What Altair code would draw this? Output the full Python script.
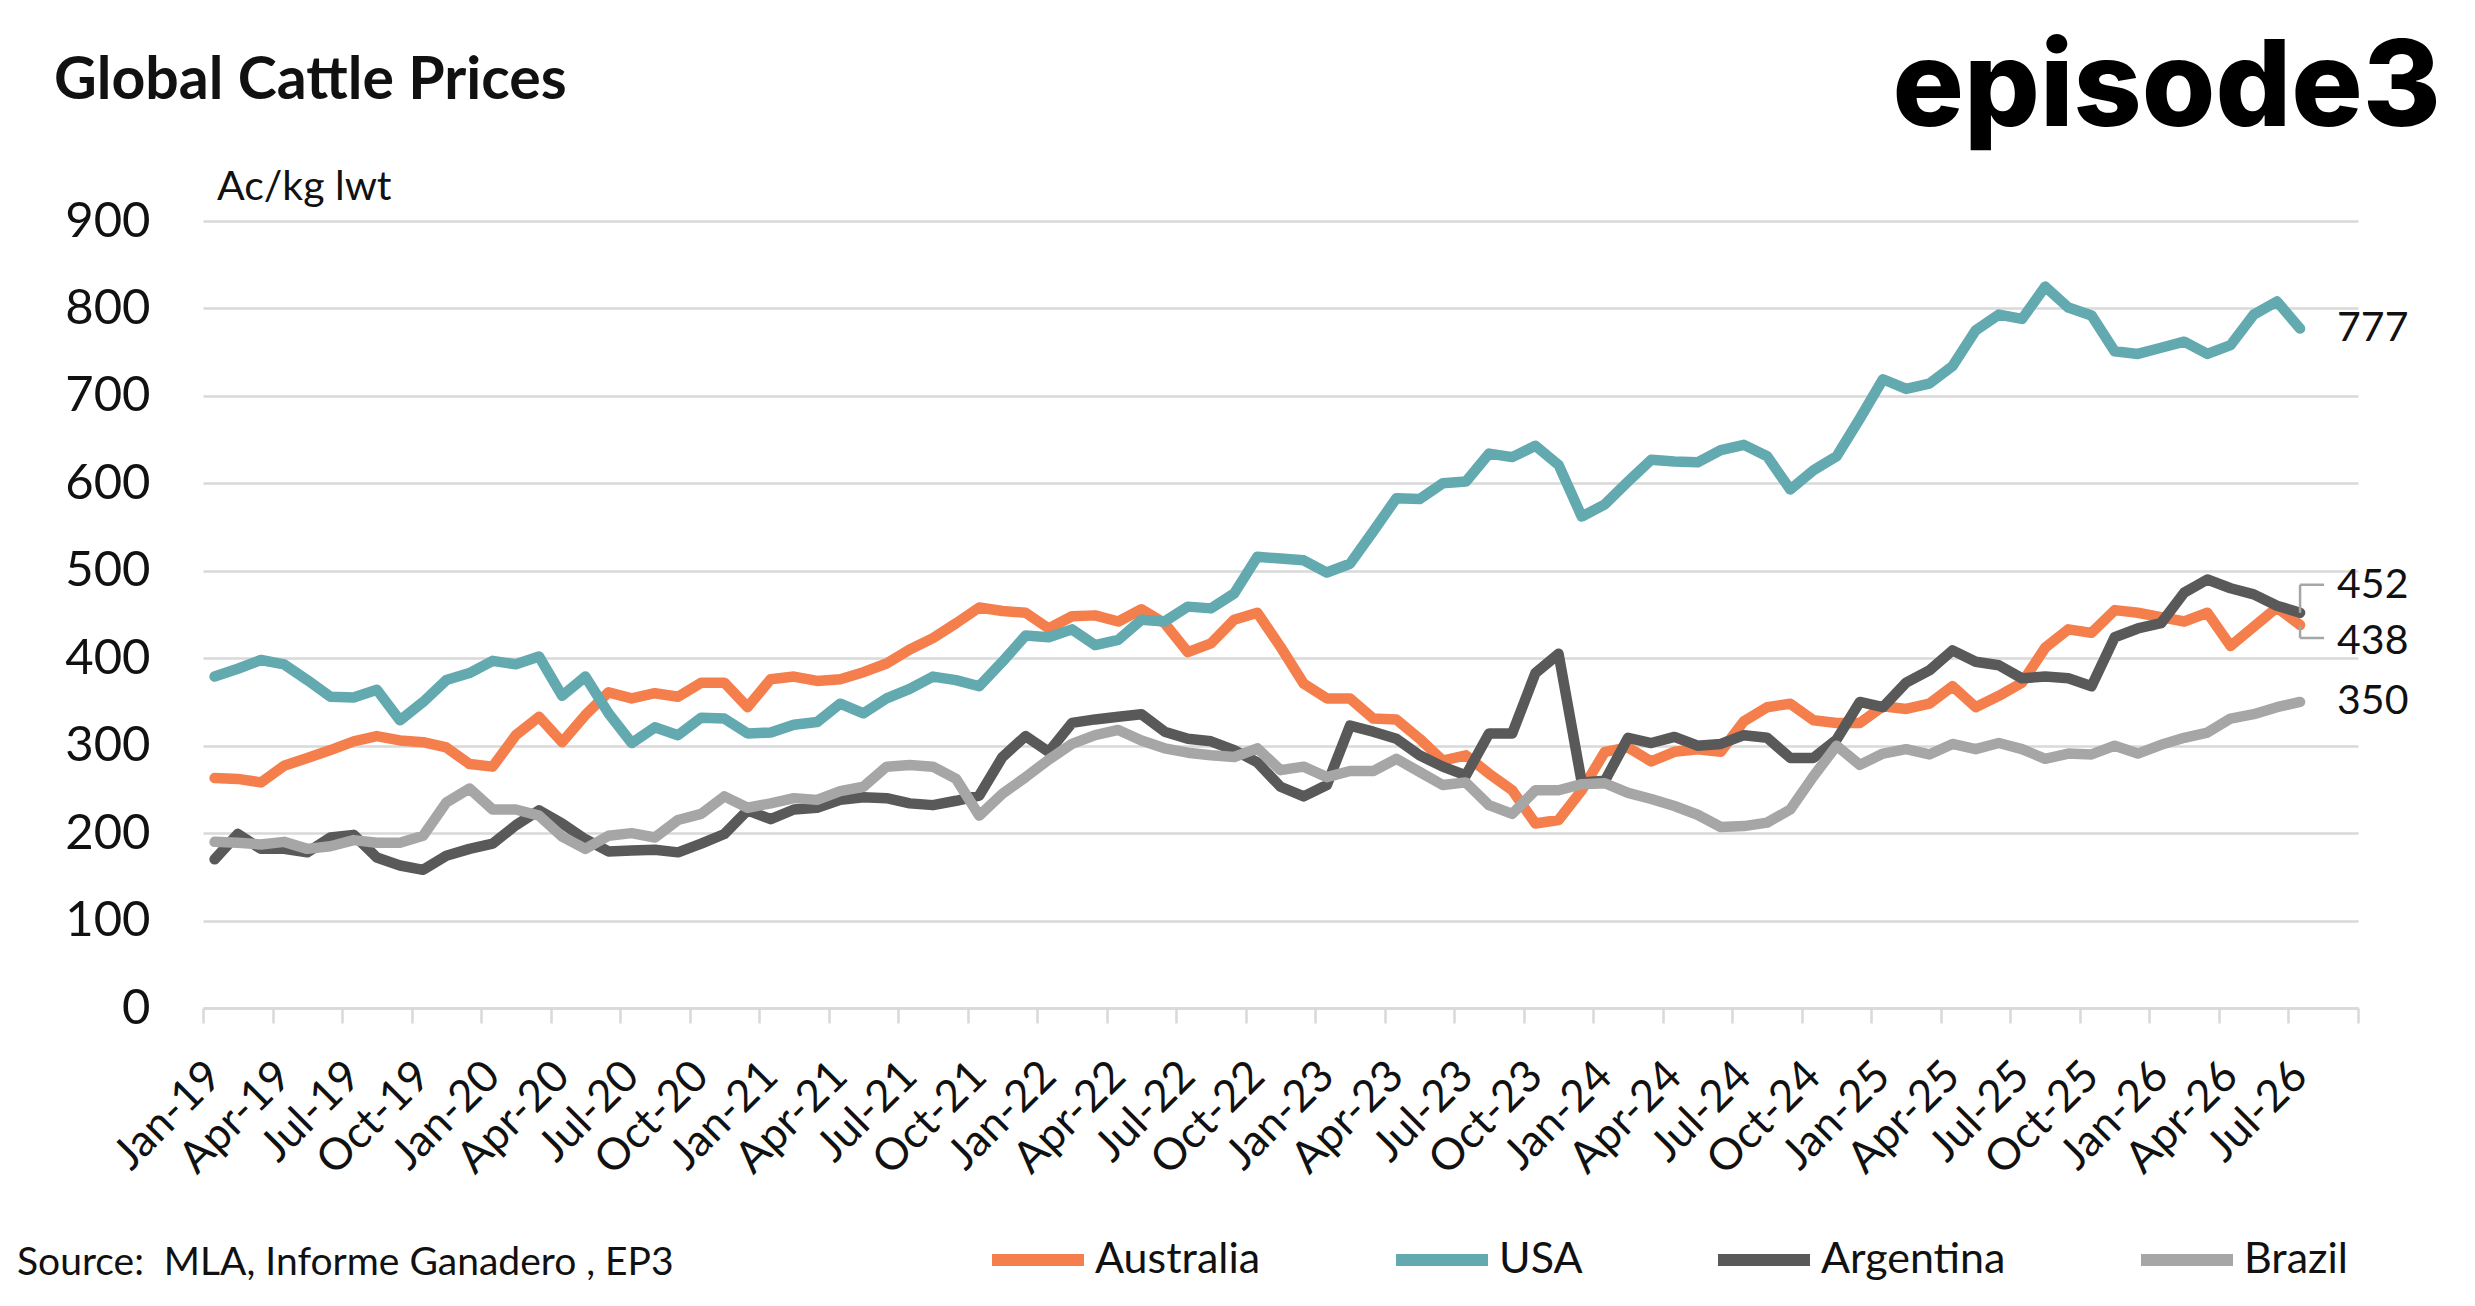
import altair as alt
import pandas as pd

# ---------------- data ----------------
MONTH_NAMES = ["Jan", "Feb", "Mar", "Apr", "May", "Jun", "Jul", "Aug", "Sep", "Oct", "Nov", "Dec"]
MONTHS = [f"{m}-{y}" for y in range(19, 27) for m in MONTH_NAMES][:91]   # Jan-19 .. Jul-26
TICK_LABELS = MONTHS[::3]                                                # Jan-19, Apr-19, ... Jul-26
N_CATEGORIES = 93                                                        # axis runs two empty months past Jul-26

AUSTRALIA = [263, 262, 258, 277, 286, 295, 305, 311, 306, 304, 298, 279, 276, 312, 333, 304,
             335, 361, 354, 360, 356, 372, 372, 344, 376, 379, 374, 376, 384, 394, 410, 423,
             440, 458, 454, 452, 434, 448, 449, 442, 456, 440, 407, 417, 444, 452, 413, 371,
             354, 354, 331, 330, 308, 283, 289, 268, 249, 211, 215, 249, 293, 298, 282, 293,
             296, 293, 328, 344, 348, 329, 326, 326, 345, 342, 348, 368, 344, 357, 372, 412,
             433, 429, 455, 452, 447, 442, 452, 414, 436, 458, 438]
USA = [379, 388, 398, 393, 375, 356, 355, 364, 329, 350, 375, 383, 397, 393, 402, 357,
       379, 337, 303, 321, 312, 332, 331, 314, 315, 324, 327, 348, 337, 354, 365, 379,
       375, 368, 396, 426, 424, 433, 415, 421, 444, 442, 459, 457, 474, 516, 514, 512,
       498, 508, 545, 583, 582, 600, 602, 634, 630, 643, 621, 562, 576, 602, 627, 625,
       624, 638, 644, 631, 593, 615, 631, 674, 719, 708, 714, 734, 775, 793, 788, 825,
       801, 792, 751, 748, 755, 762, 748, 758, 793, 808, 777]
ARGENTINA = [170, 199, 182, 182, 178, 195, 198, 172, 163, 158, 174, 182, 188, 209, 226, 211,
             193, 179, 180, 181, 178, 188, 199, 226, 216, 227, 229, 238, 241, 240, 234, 232,
             237, 243, 287, 311, 293, 326, 330, 333, 336, 316, 308, 305, 295, 281, 253, 242,
             255, 323, 316, 308, 289, 276, 266, 314, 314, 383, 405, 258, 260, 309, 303, 310,
             300, 302, 312, 309, 286, 286, 307, 350, 344, 372, 386, 409, 396, 392, 377, 379,
             377, 368, 424, 434, 440, 475, 490, 480, 473, 460, 452]
BRAZIL = [190, 189, 187, 190, 182, 185, 192, 189, 189, 197, 235, 251, 227, 227, 220, 196,
          182, 197, 200, 195, 215, 222, 242, 229, 234, 240, 238, 248, 253, 276, 278, 276,
          262, 220, 245, 264, 284, 302, 312, 318, 306, 297, 292, 289, 287, 297, 272, 276,
          264, 271, 271, 285, 270, 255, 258, 232, 222, 249, 249, 256, 257, 246, 239, 231,
          221, 207, 208, 212, 227, 265, 300, 278, 291, 296, 290, 302, 296, 303, 296, 285,
          291, 290, 300, 291, 301, 309, 315, 331, 336, 344, 350]

SERIES = ["Australia", "USA", "Argentina", "Brazil"]
COLORS = ["#F47F4C", "#62A9B0", "#595959", "#A6A6A6"]
VALUES = [AUSTRALIA, USA, ARGENTINA, BRAZIL]

rows = []
for name, vals in zip(SERIES, VALUES):
    for i, v in enumerate(vals):
        rows.append({"series": name, "month": MONTHS[i], "pos": i + 0.5, "value": v})
df = pd.DataFrame(rows)
last_pos = len(MONTHS) - 0.5

# ---------------- layout / style ----------------
W, H = 2155, 787
FONT = "Lato"
TEXT = "#111111"
GRID = "#D9D9D9"
BAND = W / N_CATEGORIES

label_arr = "[" + ",".join(f"'{t}'" for t in TICK_LABELS) + "]"

x_enc = alt.X(
    "pos:Q",
    scale=alt.Scale(domain=[0, N_CATEGORIES], nice=False, zero=False),
    axis=alt.Axis(
        values=list(range(0, N_CATEGORIES + 1, 3)),
        labelExpr=f"datum.value <= {len(MONTHS) - 1} ? {label_arr}[datum.value / 3] : ''",
        labelOffset=BAND / 2,
        labelAngle=-45,
        labelAlign="right",
        labelBaseline="middle",
        labelFont=FONT,
        labelFontSize=44,
        labelColor=TEXT,
        labelPadding=46,
        labelOverlap=False,
        labelFlush=False,
        grid=False,
        domain=True,
        domainColor=GRID,
        domainWidth=2.5,
        ticks=True,
        tickColor=GRID,
        tickWidth=2.5,
        tickSize=15,
        title=None,
    ),
)
y_enc = alt.Y(
    "value:Q",
    scale=alt.Scale(domain=[0, 900], nice=False),
    axis=alt.Axis(
        values=list(range(0, 901, 100)),
        grid=True,
        gridColor=GRID,
        gridWidth=2.5,
        domain=False,
        ticks=False,
        labelFont=FONT,
        labelFontSize=49,
        labelColor=TEXT,
        labelPadding=53,
        title=None,
    ),
)
color_enc = alt.Color(
    "series:N",
    scale=alt.Scale(domain=SERIES, range=COLORS),
    legend=alt.Legend(
        title=None,
        orient="none",
        direction="horizontal",
        legendX=783,
        legendY=987,
        symbolType="stroke",
        symbolSize=8464,
        symbolStrokeWidth=12,
        labelFont=FONT,
        labelFontSize=43,
        labelColor=TEXT,
        labelOffset=5,
        labelLimit=600,
        columnPadding=111,
        padding=0,
    ),
)

base = alt.Chart(df)
layers = []
for name in SERIES:
    layers.append(
        base.transform_filter(alt.datum.series == name)
        .mark_line(strokeWidth=10.5, strokeJoin="round", strokeCap="round")
        .encode(x=x_enc, y=y_enc, color=color_enc)
    )

# end-of-line value labels
LABEL_DY = {"USA": 0, "Argentina": -27, "Australia": 17, "Brazil": 0}
for name in SERIES:
    layers.append(
        base.transform_filter((alt.datum.series == name) & (alt.datum.pos == last_pos))
        .mark_text(align="left", baseline="middle", dx=37, dy=LABEL_DY[name],
                   font=FONT, fontSize=41, color=TEXT)
        .encode(x="pos:Q", y="value:Q", text=alt.Text("value:Q", format=".0f"))
    )

# leader lines for the two close labels
LEADER = "#A6A6A6"
for name, off in [("Argentina", -28), ("Australia", 13)]:
    sel = base.transform_filter((alt.datum.series == name) & (alt.datum.pos == last_pos))
    layers.append(
        sel.mark_rule(color=LEADER, strokeWidth=2.5, y2Offset=off)
        .encode(x="pos:Q", y="value:Q", y2="value:Q")
    )
    layers.append(
        sel.mark_rule(color=LEADER, strokeWidth=2.5, yOffset=off, x2Offset=24)
        .encode(x="pos:Q", x2="pos:Q", y="value:Q")
    )

# titles and notes
def note(text, x, y, size, weight="normal", align="left", font=FONT, color=TEXT):
    return alt.Chart(pd.DataFrame({"t": [text]})).mark_text(
        align=align, baseline="alphabetic", font=font, fontSize=size,
        fontWeight=weight, color=color,
    ).encode(text="t:N", x=alt.value(x), y=alt.value(y))

layers.append(note("Global Cattle Prices", -149, -122, 59, weight="bold"))
layers.append(note("episode3", 2238, -95, 119, weight=800, align="right", font="Inter", color="#000000"))
layers.append(note("Ac/kg lwt", 14, -21, 41))
layers.append(note("Source:\u00a0 MLA, Informe Ganadero , EP3", -186, 1054, 39))

chart = (
    alt.layer(*layers)
    .properties(
        width=W,
        height=H,
        autosize=alt.AutoSizeParams(type="none"),
        padding={"left": 195, "top": 213, "right": 100, "bottom": 280},
        background="white",
    )
    .configure_view(stroke=None)
)

chart.save("out.html", embed_options={"renderer": "svg", "actions": False})
